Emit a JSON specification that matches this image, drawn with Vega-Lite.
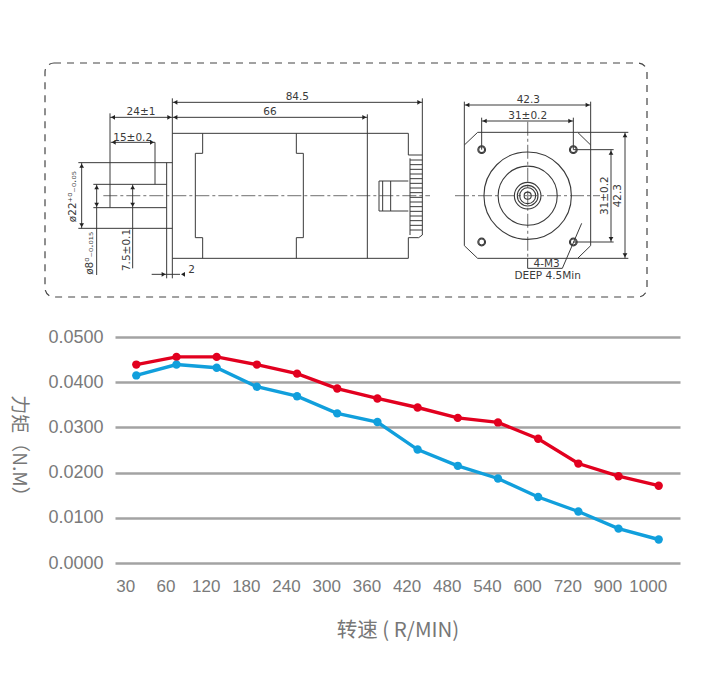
{"$schema":"https://vega.github.io/schema/vega-lite/v6.json","padding":{"left":8,"top":55,"right":5,"bottom":5},"background":"white","spacing":23,"config":{"view":{"stroke":null}},
"datasets":{
"box":[{"x":99,"x2":1905,"y":24,"y2":726}],
"segs":[{"x":481,"y":235,"x2":1189,"y2":235},{"x":481,"y":610,"x2":1189,"y2":610},{"x":481,"y":130,"x2":481,"y2":670},{"x":1189,"y":235,"x2":1189,"y2":300},{"x":1189,"y":548,"x2":1189,"y2":610},{"x":1066,"y":178,"x2":1066,"y2":610},{"x":481,"y":142,"x2":1231,"y2":142},{"x":1231,"y":130,"x2":1231,"y2":300},{"x":481,"y":187,"x2":1066,"y2":187},{"x":294,"y":187,"x2":481,"y2":187},{"x":294,"y":175,"x2":294,"y2":458},{"x":296,"y":262,"x2":429,"y2":262},{"x":429,"y":262,"x2":429,"y2":388},{"x":244,"y":388,"x2":464,"y2":388},{"x":244,"y":458,"x2":464,"y2":458},{"x":199,"y":323,"x2":481,"y2":323},{"x":199,"y":520,"x2":481,"y2":520},{"x":464,"y":323,"x2":464,"y2":670},{"x":209,"y":323,"x2":209,"y2":520},{"x":254,"y":388,"x2":254,"y2":660},{"x":362,"y":388,"x2":362,"y2":640},{"x":419,"y":658,"x2":504,"y2":658},
{"x":572,"y":235,"x2":572,"y2":295},{"x":572,"y":295,"x2":550,"y2":295},{"x":550,"y":295,"x2":550,"y2":548},{"x":550,"y":548,"x2":572,"y2":548},{"x":572,"y":548,"x2":572,"y2":610},{"x":853,"y":235,"x2":853,"y2":295},{"x":853,"y":295,"x2":874,"y2":295},{"x":874,"y":295,"x2":874,"y2":548},{"x":874,"y":548,"x2":853,"y2":548},{"x":853,"y":548,"x2":853,"y2":610},
{"x":1101,"y":378,"x2":1189,"y2":378},{"x":1101,"y":468,"x2":1189,"y2":468},{"x":1101,"y":378,"x2":1101,"y2":468},{"x":1112,"y":378,"x2":1112,"y2":468},{"x":1136,"y":378,"x2":1136,"y2":468},{"x":1189,"y":300,"x2":1231,"y2":300},{"x":1231,"y":300,"x2":1231,"y2":540},{"x":1231,"y":540,"x2":1220,"y2":548},{"x":1220,"y":548,"x2":1189,"y2":548},{"x":1194,"y":310,"x2":1194,"y2":540},
{"x":1194,"y":315,"x2":1231,"y2":315},{"x":1194,"y":329,"x2":1231,"y2":329},{"x":1194,"y":343,"x2":1231,"y2":343},{"x":1194,"y":357,"x2":1231,"y2":357},{"x":1194,"y":371,"x2":1231,"y2":371},{"x":1194,"y":385,"x2":1231,"y2":385},{"x":1194,"y":399,"x2":1231,"y2":399},{"x":1194,"y":413,"x2":1231,"y2":413},{"x":1194,"y":427,"x2":1231,"y2":427},{"x":1194,"y":441,"x2":1231,"y2":441},{"x":1194,"y":455,"x2":1231,"y2":455},{"x":1194,"y":469,"x2":1231,"y2":469},{"x":1194,"y":483,"x2":1231,"y2":483},{"x":1194,"y":497,"x2":1231,"y2":497},{"x":1194,"y":511,"x2":1231,"y2":511},{"x":1194,"y":525,"x2":1231,"y2":525},
{"x":1397,"y":232,"x2":1697,"y2":232},{"x":1697,"y":232,"x2":1736,"y2":270},{"x":1736,"y":270,"x2":1736,"y2":572},{"x":1736,"y":572,"x2":1697,"y2":610},{"x":1697,"y":610,"x2":1397,"y2":610},{"x":1397,"y":610,"x2":1357,"y2":572},{"x":1357,"y":572,"x2":1357,"y2":270},{"x":1357,"y":270,"x2":1397,"y2":232},
{"x":1357,"y":150,"x2":1736,"y2":150},{"x":1357,"y":140,"x2":1357,"y2":270},{"x":1736,"y":140,"x2":1736,"y2":270},{"x":1409,"y":198,"x2":1684,"y2":198},{"x":1409,"y":188,"x2":1409,"y2":284},{"x":1684,"y":188,"x2":1684,"y2":284},{"x":1797,"y":284,"x2":1797,"y2":561},{"x":1684,"y":284,"x2":1805,"y2":284},{"x":1684,"y":561,"x2":1805,"y2":561},{"x":1839,"y":232,"x2":1839,"y2":610},{"x":1697,"y":232,"x2":1849,"y2":232},{"x":1697,"y":610,"x2":1849,"y2":610},{"x":1547,"y":610,"x2":1547,"y2":640},{"x":1547,"y":640,"x2":1651,"y2":640},{"x":1651,"y":640,"x2":1709,"y2":505}],
"center":[{"x":274,"y":422,"x2":1254,"y2":422},{"x":1329,"y":422,"x2":1764,"y2":422},{"x":1547,"y":200,"x2":1547,"y2":610}],
"arrows":[{"x":490,"y":142,"dir":"left"},{"x":1222,"y":142,"dir":"right"},{"x":490,"y":187,"dir":"left"},{"x":1057,"y":187,"dir":"right"},{"x":303,"y":187,"dir":"left"},{"x":472,"y":187,"dir":"right"},{"x":305,"y":262,"dir":"left"},{"x":420,"y":262,"dir":"right"},{"x":209,"y":332,"dir":"up"},{"x":209,"y":511,"dir":"down"},{"x":254,"y":397,"dir":"up"},{"x":254,"y":449,"dir":"down"},{"x":362,"y":397,"dir":"up"},{"x":362,"y":449,"dir":"down"},{"x":455,"y":658,"dir":"right"},{"x":513,"y":658,"dir":"left"},{"x":1366,"y":150,"dir":"left"},{"x":1727,"y":150,"dir":"right"},{"x":1418,"y":198,"dir":"left"},{"x":1675,"y":198,"dir":"right"},{"x":1797,"y":293,"dir":"up"},{"x":1797,"y":552,"dir":"down"},{"x":1839,"y":241,"dir":"up"},{"x":1839,"y":601,"dir":"down"}],
"circles":[{"x":1547,"y":422,"d":296},{"x":1547,"y":422,"d":200},{"x":1547,"y":422,"d":90},{"x":1547,"y":422,"d":70},{"x":1547,"y":422,"d":54},{"x":1547,"y":422,"d":24},{"x":1409,"y":284,"d":26},{"x":1684,"y":284,"d":26},{"x":1409,"y":561,"d":26},{"x":1684,"y":561,"d":26},{"x":1409,"y":284,"d":20},{"x":1684,"y":284,"d":20},{"x":1409,"y":561,"d":20},{"x":1684,"y":561,"d":20}],
"hlabels":[{"x":856,"y":125,"t":"84.5"},{"x":774,"y":172,"t":"66"},{"x":387,"y":172,"t":"24±1"},{"x":362,"y":248,"t":"15±0.2"},{"x":539,"y":645,"t":"2"},{"x":1549,"y":135,"t":"42.3"},{"x":1547,"y":183,"t":"31±0.2"},{"x":1604,"y":627,"t":"4-M3"},{"x":1607,"y":662,"t":"DEEP  4.5Min"}],
"vlabels":[{"x":184,"y":425,"t":"ø22⁺⁰₋₀.₀₅"},{"x":234,"y":595,"t":"ø8⁰₋₀.₀₁₅"},{"x":346,"y":585,"t":"7.5±0.1"},{"x":1779,"y":422,"t":"31±0.2"},{"x":1818,"y":422,"t":"42.3"}],
"torque":[
{"rpm":"30","s":"A","v":0.0439},{"rpm":"60","s":"A","v":0.0456},{"rpm":"120","s":"A","v":0.0456},{"rpm":"180","s":"A","v":0.0439},{"rpm":"240","s":"A","v":0.0419},{"rpm":"300","s":"A","v":0.0386},{"rpm":"360","s":"A","v":0.0364},{"rpm":"420","s":"A","v":0.0344},{"rpm":"480","s":"A","v":0.0321},{"rpm":"540","s":"A","v":0.0311},{"rpm":"600","s":"A","v":0.0275},{"rpm":"720","s":"A","v":0.022},{"rpm":"900","s":"A","v":0.0192},{"rpm":"1000","s":"A","v":0.0171},
{"rpm":"30","s":"B","v":0.0415},{"rpm":"60","s":"B","v":0.0439},{"rpm":"120","s":"B","v":0.0432},{"rpm":"180","s":"B","v":0.039},{"rpm":"240","s":"B","v":0.0369},{"rpm":"300","s":"B","v":0.0331},{"rpm":"360","s":"B","v":0.0312},{"rpm":"420","s":"B","v":0.0251},{"rpm":"480","s":"B","v":0.0215},{"rpm":"540","s":"B","v":0.0187},{"rpm":"600","s":"B","v":0.0146},{"rpm":"720","s":"B","v":0.0114},{"rpm":"900","s":"B","v":0.0076},{"rpm":"1000","s":"B","v":0.0052}]
},
"vconcat":[
{"width":565,"height":250,
"encoding":{"x":{"field":"x","type":"quantitative","axis":null,"scale":{"domain":[309,2004],"nice":false,"zero":false}},"y":{"field":"y","type":"quantitative","axis":null,"scale":{"domain":[750,0],"nice":false,"zero":false}}},
"layer":[
{"data":{"name":"box"},"mark":{"type":"rect","filled":false,"stroke":"#444444","strokeWidth":1.2,"strokeDash":[7,6],"cornerRadius":9},"encoding":{"x2":{"field":"x2"},"y2":{"field":"y2"}}},
{"data":{"name":"center"},"mark":{"type":"rule","stroke":"#8c8c8c","strokeWidth":1.3,"strokeDash":[14,3,3,3]},"encoding":{"x2":{"field":"x2"},"y2":{"field":"y2"}}},
{"data":{"name":"segs"},"mark":{"type":"rule","stroke":"#3a3a3a","strokeWidth":1},"encoding":{"x2":{"field":"x2"},"y2":{"field":"y2"}}},
{"data":{"name":"circles"},"mark":{"type":"point","shape":"circle","filled":false,"stroke":"#3a3a3a","strokeWidth":1.1,"opacity":1},"encoding":{"size":{"field":"d","type":"quantitative","legend":null,"scale":{"type":"pow","exponent":2,"domain":[0,300],"range":[0,7854]}}}},
{"data":{"name":"arrows"},"mark":{"type":"point","filled":true,"color":"#222222","opacity":1,"size":22},"encoding":{"shape":{"field":"dir","type":"nominal","legend":null,"scale":{"domain":["left","right","up","down"],"range":["triangle-left","triangle-right","triangle-up","triangle-down"]}}}},
{"data":{"name":"hlabels"},"mark":{"type":"text","font":"DejaVu Sans","fontSize":10.5,"color":"#3a3a3a"},"encoding":{"text":{"field":"t"}}},
{"data":{"name":"vlabels"},"mark":{"type":"text","font":"DejaVu Sans","fontSize":10.5,"color":"#3a3a3a","angle":270},"encoding":{"text":{"field":"t"}}}
]},
{"width":565,"height":226,"data":{"name":"torque"},
"encoding":{"x":{"field":"rpm","type":"ordinal","sort":null,"scale":{"type":"point","padding":0.53},"axis":{"title":"转速 ( R/MIN)","titleFont":"Noto Sans CJK SC","titleFontSize":20.5,"titleFontWeight":"normal","titleColor":"#777777","titlePadding":26,"labelFont":"Liberation Sans","labelFontSize":17,"labelColor":"#7a7a7a","labelAngle":0,"labelOffset":-11,"labelPadding":15,"ticks":false,"domain":false,"grid":false}},
"y":{"field":"v","type":"quantitative","scale":{"domain":[0,0.05],"nice":false},"axis":{"title":"力矩（N.M）","titleAngle":90,"titleFont":"Noto Sans CJK SC","titleFontSize":19,"titleFontWeight":"normal","titleColor":"#777777","titlePadding":39,"labelFont":"Liberation Sans","labelFontSize":18,"labelColor":"#7a7a7a","labelPadding":12,"format":".4f","values":[0,0.01,0.02,0.03,0.04,0.05],"ticks":false,"domain":false,"grid":true,"gridColor":"#a3a3a3","gridWidth":2.5}},
"color":{"field":"s","type":"nominal","legend":null,"scale":{"domain":["A","B"],"range":["#e2001f","#119fdc"]}}},
"layer":[{"mark":{"type":"line","strokeWidth":3.4}},{"mark":{"type":"point","filled":true,"opacity":1,"size":70,"shape":"circle"}}]}
]}
